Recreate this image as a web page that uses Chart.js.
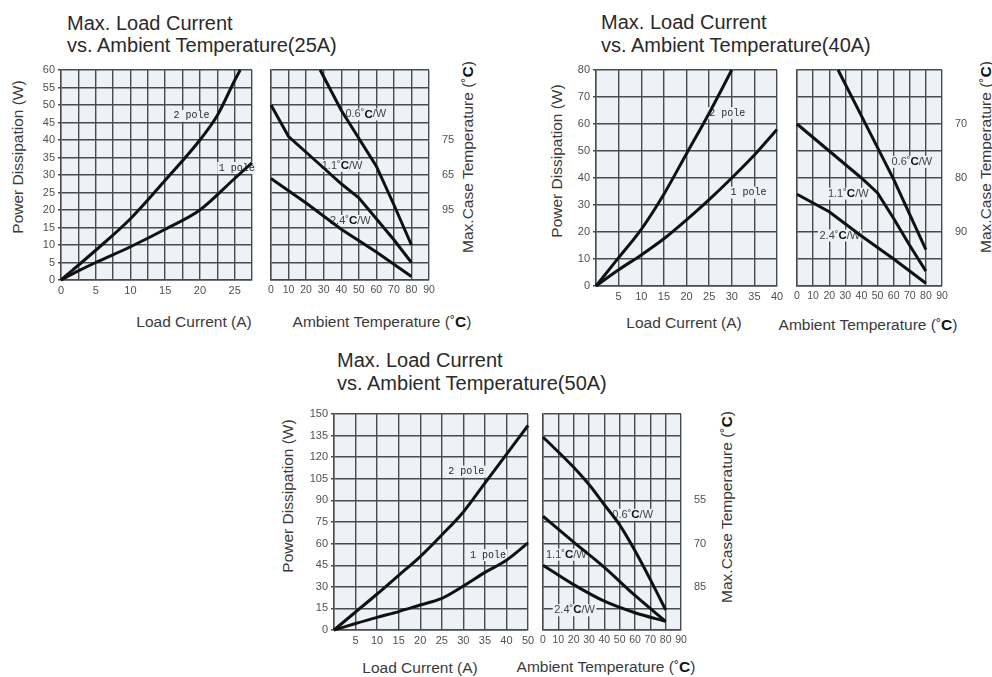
<!DOCTYPE html>
<html>
<head>
<meta charset="utf-8">
<script src="https://cdn.jsdelivr.net/npm/chart.js"></script>
<style>
  body { margin: 0; width: 992px; height: 677px; position: relative; overflow: hidden; background: #fff;
         font-family: "Liberation Sans", Arial, sans-serif; }
  .title { position: absolute; white-space: nowrap; font-size: 20px; line-height: 20px; color: #2a2a2a; transform: translateY(-50%); }
  .axt { position: absolute; white-space: nowrap; font-size: 15.5px; line-height: 16px; color: #3a3a3a; transform: translate(-50%, -50%); }
  .axt.rot { transform: translate(-50%, -50%) rotate(-90deg); }
  .axt b { color: #111; }
</style>
</head>
<body>

<div class="title" style="left:67px;top:23px">Max. Load Current</div>
<div class="title" style="left:67px;top:45px">vs. Ambient Temperature(25A)</div>
<div class="title" style="left:601px;top:22px">Max. Load Current</div>
<div class="title" style="left:601px;top:45px">vs. Ambient Temperature(40A)</div>
<div class="title" style="left:337px;top:360px">Max. Load Current</div>
<div class="title" style="left:337px;top:383px">vs. Ambient Temperature(50A)</div>

<div class="axt rot" style="left:18px;top:157px">Power Dissipation (W)</div>
<div class="axt" style="left:194px;top:322px">Load Current (A)</div>
<div class="axt" style="left:382px;top:322px">Ambient Temperature (˚<b>C</b>)</div>
<div class="axt rot" style="left:468px;top:157px">Max.Case Temperature (˚<b>C</b>)</div>

<div class="axt rot" style="left:557px;top:161px">Power Dissipation (W)</div>
<div class="axt" style="left:684px;top:323px">Load Current (A)</div>
<div class="axt" style="left:868px;top:325px">Ambient Temperature (˚<b>C</b>)</div>
<div class="axt rot" style="left:986px;top:157px">Max.Case Temperature (˚<b>C</b>)</div>

<div class="axt rot" style="left:288px;top:496px">Power Dissipation (W)</div>
<div class="axt" style="left:420px;top:668px">Load Current (A)</div>
<div class="axt" style="left:606px;top:667px">Ambient Temperature (˚<b>C</b>)</div>
<div class="axt rot" style="left:727px;top:507px">Max.Case Temperature (˚<b>C</b>)</div>

<script>
// ---- data ----
// 25A
const cur25TwoPole = [0, 5, 10, 15, 20, 22.5, 25, 25.8];
const pwr25TwoPole = [0, 8.5, 17.5, 28.5, 40, 47, 57, 60];
const cur25OnePole = [0, 2.5, 5, 10, 15, 20, 25, 27.5];
const pwr25OnePole = [0, 2.6, 5, 9.5, 14.5, 20, 29, 33.5];
const amb25R06 = [28, 40, 50, 60, 70, 80];
const pwr25R06 = [60, 48.5, 40.5, 32.5, 21.5, 10];
const amb25R11 = [0, 10, 20, 30, 40, 50, 60, 70, 80];
const pwr25R11 = [50, 41, 36.5, 32, 27.5, 23.5, 17.5, 11.5, 5];
const amb25R24 = [0, 20, 40, 60, 80];
const pwr25R24 = [29, 22, 14.5, 8, 1];
const case25Ticks = [20, 30, 40];
const case25Labels = ['95', '65', '75'];

// 40A
const cur40TwoPole = [0, 5, 10, 15, 20, 25, 30];
const pwr40TwoPole = [0, 10.5, 21, 34, 49, 64, 80];
const cur40OnePole = [0, 5, 10, 15, 20, 25, 30, 35, 40];
const pwr40OnePole = [0, 6, 11.5, 17.5, 24.5, 32, 40, 48.5, 58];
const amb40R06 = [25.5, 40, 60, 80];
const pwr40R06 = [80, 63, 39.5, 13.5];
const amb40R11 = [0, 10, 20, 30, 40, 50, 60, 70, 80];
const pwr40R11 = [60, 55, 50, 45, 40, 34.5, 25, 15, 5.5];
const amb40R24 = [0, 20, 40, 60, 80];
const pwr40R24 = [34, 27.5, 18.5, 10, 1];
const case40Ticks = [20, 40, 60];
const case40Labels = ['90', '80', '70'];

// 50A (x axis drawn on grid positions, last column is labelled 50)
const cur50 = [0, 5, 10, 15, 20, 25, 30, 35, 40, 45];
const cur50TickLabels = ['', '5', '10', '15', '20', '25', '30', '35', '40', '50'];
const pwr50TwoPole = [0, 12.5, 25, 38, 51, 66, 82, 102, 122, 142];
const pwr50OnePole = [0, 4.5, 8.8, 12.8, 17.4, 22, 30.5, 40, 48.5, 60.5];
const amb50R06 = [0, 20, 30, 40, 50, 60, 70, 80];
const pwr50R06 = [134, 113, 101, 87, 73, 55, 35, 14];
const amb50 = [0, 20, 40, 60, 80];
const pwr50R11 = [79, 61, 43.5, 24, 6];
const pwr50R24 = [45, 31.5, 20, 12, 6];
const case50Ticks = [30, 60, 90];
const case50Labels = ['85', '70', '55'];

const poleNames = ['2 pole', '1 pole'];
const rthNames = ['0.6', '1.1', '2.4'];

// ---- drawing ----
const FONT = '"Liberation Sans", Arial, sans-serif';
const PLOT_BG = '#eef1f6';
const GRID = '#484b50';
const TICK = '#505050';

const zip = (xs, ys) => xs.map((x, i) => ({ x: x, y: ys[i] }));

const noPad = (s) => { s.paddingLeft = 0; s.paddingRight = 0; s.paddingTop = 0; s.paddingBottom = 0; };

function line(xs, ys, smooth) {
  return {
    data: zip(xs, ys),
    borderColor: '#111',
    borderWidth: 3,
    pointRadius: 0,
    cubicInterpolationMode: smooth ? 'monotone' : 'default',
    tension: 0,
    clip: 4
  };
}

const bgPlugin = {
  id: 'plotBg',
  beforeDraw(chart) {
    const a = chart.chartArea, ctx = chart.ctx;
    ctx.save();
    ctx.fillStyle = PLOT_BG;
    ctx.fillRect(a.left, a.top, a.right - a.left, a.bottom - a.top);
    ctx.restore();
  }
};

// labels next to the curves, drawn under the lines
function labelPlugin(items) {
  return {
    id: 'curveLabels',
    beforeDatasetsDraw(chart) {
      const ctx = chart.ctx, xs = chart.scales.x, ys = chart.scales.y;
      ctx.save();
      ctx.textBaseline = 'middle';
      items.forEach(it => {
        const px = xs.getPixelForValue(it.x), py = ys.getPixelForValue(it.y);
        const parts = it.mono
          ? [{ t: it.text, f: '10px "Liberation Mono", "DejaVu Sans Mono", monospace', c: '#2a2a2a' }]
          : [{ t: it.text + '˚', f: '11px ' + FONT, c: '#444' },
             { t: 'C', f: 'bold 11.5px ' + FONT, c: '#111' },
             { t: '/W', f: '11px ' + FONT, c: '#444' }];
        let total = 0;
        parts.forEach(p => { ctx.font = p.f; p.w = ctx.measureText(p.t).width; total += p.w; });
        ctx.fillStyle = PLOT_BG;
        ctx.fillRect(px - total / 2 - 1.5, py - 6, total + 3, 12);
        let x = px - total / 2;
        parts.forEach(p => { ctx.font = p.f; ctx.fillStyle = p.c; ctx.textAlign = 'left'; ctx.fillText(p.t, x, py); x += p.w; });
      });
      ctx.restore();
    }
  };
}

function build(plot, cfg) {
  const leftW = cfg.leftW, rightW = cfg.rightW || 0, padT = 6, padR = 10, botH = 22;
  const w = (plot.r - plot.l) + leftW + rightW + padR;
  const h = (plot.b - plot.t) + padT + botH;
  const cv = document.createElement('canvas');
  cv.width = w; cv.height = h;
  cv.style.cssText = `position:absolute;left:${plot.l - leftW}px;top:${plot.t - padT}px;width:${w}px;height:${h}px`;
  document.body.appendChild(cv);

  const scales = {
    x: {
      type: 'linear', min: cfg.xMin, max: cfg.xMax,
      grid: { color: GRID, lineWidth: 1.4, drawTicks: false },
      border: { color: GRID, width: 1.4 },
      ticks: {
        stepSize: cfg.xStep, autoSkip: false, maxRotation: 0, padding: 4,
        color: TICK, font: { family: FONT, size: cfg.xFont || 11 },
        callback: cfg.xLabel
      },
      afterFit: (s) => { s.height = botH; noPad(s); }
    },
    y: {
      type: 'linear', min: 0, max: cfg.yMax,
      grid: { color: GRID, lineWidth: 1.4, drawTicks: !cfg.right, tickLength: 3 },
      border: { color: GRID, width: 1.4 },
      ticks: {
        display: !cfg.right, stepSize: cfg.yStep, autoSkip: false, padding: 3,
        color: TICK, font: { family: FONT, size: 11 }
      },
      afterFit: (s) => { s.width = leftW; noPad(s); }
    }
  };
  if (cfg.right) {
    scales.yR = {
      type: 'linear', position: 'right', min: 0, max: cfg.yMax,
      grid: { display: false },
      border: { display: false },
      afterBuildTicks: (s) => { s.ticks = cfg.right.ticks.map(v => ({ value: v })); },
      ticks: {
        padding: 5, color: TICK, font: { family: FONT, size: 11 },
        callback: (v) => cfg.right.labels[cfg.right.ticks.indexOf(v)]
      },
      afterFit: (s) => { s.width = rightW; noPad(s); }
    };
  }

  return new Chart(cv, {
    type: 'line',
    data: { datasets: cfg.datasets },
    options: {
      responsive: false,
      animation: false,
      devicePixelRatio: 1,
      layout: { padding: { left: 0, top: padT, right: padR, bottom: 0 } },
      plugins: { legend: { display: false }, tooltip: { enabled: false } },
      scales: scales
    },
    plugins: [bgPlugin, labelPlugin(cfg.labels)]
  });
}

const ambLabel = (v) => v;

// 25A
build({ l: 61, t: 70, r: 252, b: 280 }, {
  leftW: 30, xMin: 0, xMax: 27.5, xStep: 2.5, yMax: 60, yStep: 5,
  xLabel: (v) => (v % 5 === 0 && v <= 25) ? v : '',
  datasets: [line(cur25TwoPole, pwr25TwoPole, true), line(cur25OnePole, pwr25OnePole, true)],
  labels: [{ x: 18.8, y: 46.9, text: poleNames[0], mono: true }, { x: 25.3, y: 32, text: poleNames[1], mono: true }]
});
build({ l: 271, t: 70, r: 429, b: 280 }, {
  leftW: 4, rightW: 30, xMin: 0, xMax: 90, xStep: 10, yMax: 60, yStep: 5, xFont: 10.5,
  xLabel: ambLabel, right: { ticks: case25Ticks, labels: case25Labels },
  datasets: [line(amb25R06, pwr25R06), line(amb25R11, pwr25R11), line(amb25R24, pwr25R24)],
  labels: [{ x: 54, y: 47.3, text: rthNames[0] }, { x: 40.5, y: 32.6, text: rthNames[1] }, { x: 45.2, y: 16.9, text: rthNames[2] }]
});

// 40A
build({ l: 596, t: 70, r: 777, b: 286 }, {
  leftW: 30, xMin: 0, xMax: 40, xStep: 5, yMax: 80, yStep: 10,
  xLabel: (v) => v === 0 ? '' : v,
  datasets: [line(cur40TwoPole, pwr40TwoPole, true), line(cur40OnePole, pwr40OnePole, true)],
  labels: [{ x: 29, y: 64, text: poleNames[0], mono: true }, { x: 33.7, y: 34.6, text: poleNames[1], mono: true }]
});
build({ l: 797, t: 70, r: 942, b: 286 }, {
  leftW: 4, rightW: 30, xMin: 0, xMax: 90, xStep: 10, yMax: 80, yStep: 10, xFont: 10.5,
  xLabel: ambLabel, right: { ticks: case40Ticks, labels: case40Labels },
  datasets: [line(amb40R06, pwr40R06), line(amb40R11, pwr40R11), line(amb40R24, pwr40R24)],
  labels: [{ x: 71.3, y: 46, text: rthNames[0] }, { x: 31.8, y: 34.2, text: rthNames[1] }, { x: 26.6, y: 18.7, text: rthNames[2] }]
});

// 50A
build({ l: 334, t: 414, r: 528, b: 630 }, {
  leftW: 30, xMin: 0, xMax: 45, xStep: 5, yMax: 150, yStep: 15,
  xLabel: (v) => cur50TickLabels[cur50.indexOf(v)],
  datasets: [line(cur50, pwr50TwoPole, true), line(cur50, pwr50OnePole, true)],
  labels: [{ x: 30.7, y: 110, text: poleNames[0], mono: true }, { x: 35.7, y: 52, text: poleNames[1], mono: true }]
});
build({ l: 543, t: 414, r: 681, b: 630 }, {
  leftW: 4, rightW: 30, xMin: 0, xMax: 90, xStep: 10, yMax: 150, yStep: 15, xFont: 10.5,
  xLabel: ambLabel, right: { ticks: case50Ticks, labels: case50Labels },
  datasets: [line(amb50R06, pwr50R06, true), line(amb50, pwr50R11, true), line(amb50, pwr50R24, true)],
  labels: [{ x: 58.5, y: 80, text: rthNames[0] }, { x: 15.2, y: 52.3, text: rthNames[1] }, { x: 20.6, y: 13.7, text: rthNames[2] }]
});
</script>
</body>
</html>
